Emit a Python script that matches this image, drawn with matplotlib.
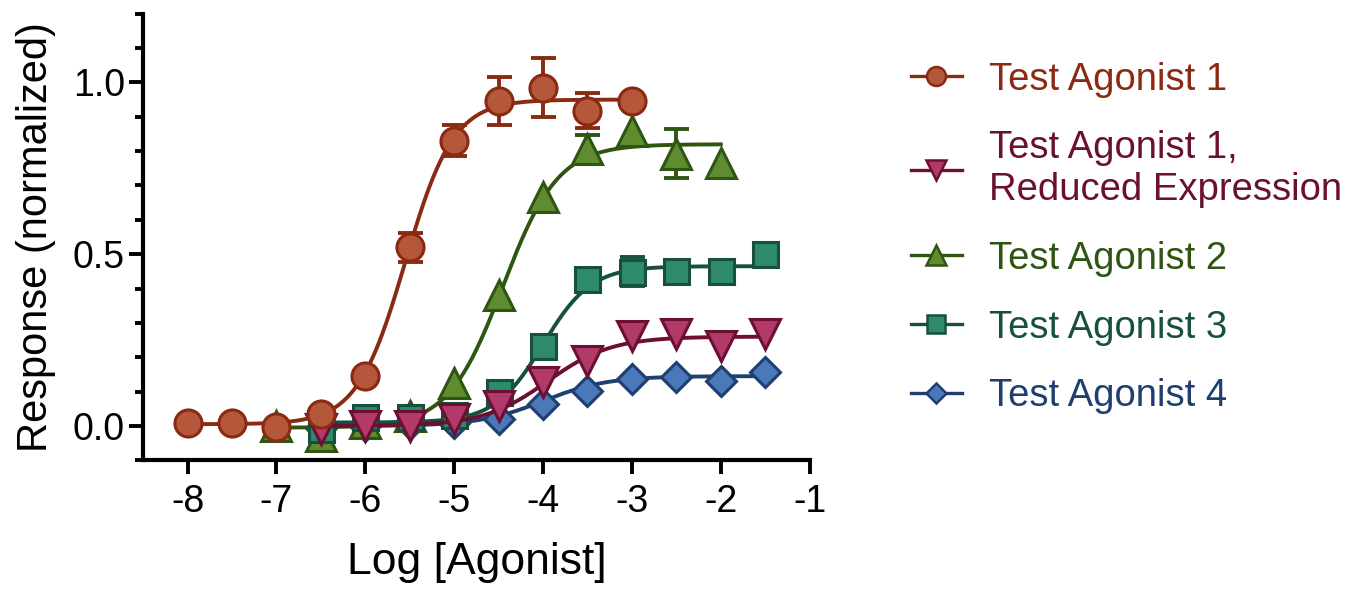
import matplotlib
matplotlib.use("Agg")
import matplotlib.pyplot as plt
import numpy as np

plt.rcParams["font.family"] = ["Liberation Sans", "DejaVu Sans"]

# log concentrations for each series
x_a1 = [-8.0, -7.5, -7.0, -6.5, -6.0, -5.5, -5.0, -4.5, -4.0, -3.5, -3.0]
x_a2 = [-7.0, -6.5, -6.0, -5.5, -5.0, -4.5, -4.0, -3.5, -3.0, -2.5, -2.0]
x_late = [-6.5, -6.0, -5.5, -5.0, -4.5, -4.0, -3.5, -3.0, -2.5, -2.0, -1.5]

# mean responses (normalized)
y_a1 = [0.01, 0.01, -0.003, 0.035, 0.146, 0.52, 0.83, 0.945, 0.985, 0.918, 0.945]
y_red = [-0.01, 0.0, 0.0, 0.02, 0.058, 0.128, 0.19, 0.262, 0.268, 0.233, 0.268]
y_a2 = [0.0, -0.03, 0.01, 0.03, 0.125, 0.38, 0.667, 0.807, 0.86, 0.793, 0.764]
y_a3 = [-0.01, 0.025, 0.025, 0.032, 0.099, 0.233, 0.428, 0.449, 0.452, 0.452, 0.50]
y_a4 = [-0.005, 0.0, 0.005, 0.01, 0.02, 0.064, 0.102, 0.137, 0.143, 0.131, 0.157]

# SEM (0 where hidden by the marker)
e_a1 = [0, 0, 0, 0, 0, 0.043, 0.045, 0.07, 0.085, 0.05, 0]
e_red = [0, 0, 0, 0, 0, 0, 0, 0, 0, 0, 0]
e_a2 = [0, 0, 0, 0, 0, 0, 0, 0.04, 0, 0.07, 0]
e_a3 = [0, 0, 0, 0, 0, 0, 0, 0.043, 0, 0, 0]
e_a4 = [0, 0, 0, 0, 0, 0, 0, 0, 0, 0, 0]

# fitted sigmoid parameters: bottom, top, logEC50, hill slope
fit_a1 = [0.005, 0.95, -5.55, 1.6]
fit_red = [0.0, 0.26, -3.95, 1.2]
fit_a2 = [-0.005, 0.82, -4.45, 1.4]
fit_a3 = [0.01, 0.465, -4.0, 1.6]
fit_a4 = [0.0, 0.145, -4.0, 1.2]

labels = ["Test Agonist 1", "Test Agonist 1,\nReduced Expression",
          "Test Agonist 2", "Test Agonist 3", "Test Agonist 4"]

x_ticks = [-8, -7, -6, -5, -4, -3, -2, -1]
x_tick_labels = ["-8", "-7", "-6", "-5", "-4", "-3", "-2", "-1"]
y_ticks = [0.0, 0.5, 1.0]
y_tick_labels = ["0.0", "0.5", "1.0"]


def hill(x, p):
    bottom, top, ec50, slope = p
    return bottom + (top - bottom) / (1.0 + 10 ** ((ec50 - x) * slope))


series = [
    # x, y, err, fit, marker, fill, edge, zorder, marker size
    (x_late, y_a4, e_a4, fit_a4, "D", "#4a78b8", "#1f3f70", 3, 15),
    (x_a2, y_a2, e_a2, fit_a2, "^", "#5e8c2f", "#2f5512", 4, 21),
    (x_late, y_a3, e_a3, fit_a3, "s", "#2e8a6c", "#17503f", 5, 18),
    (x_late, y_red, e_red, fit_red, "v", "#b23a6a", "#6b0f33", 6, 21),
    (x_a1, y_a1, e_a1, fit_a1, "o", "#b5573a", "#8a2a12", 7, 19.5),
]
label_order = [4, 2, 3, 1, 0]

fig = plt.figure(figsize=(13.63, 5.97), dpi=100)
ax = fig.add_axes([0.105, 0.229, 0.489, 0.748])

handles = {}
for i, (xs, ys, es, fit, mk, fc, ec, z, ms) in enumerate(series):
    xs = np.asarray(xs)
    ys = np.asarray(ys)
    es = np.asarray(es, dtype=float)
    xx = np.linspace(xs[0], xs[-1], 300)
    ax.plot(xx, hill(xx, fit), color=ec, lw=2.8, zorder=z)
    m = es > 0
    if m.any():
        ax.errorbar(xs[m], ys[m], yerr=es[m], fmt="none", ecolor=ec,
                    elinewidth=2.8, capsize=9, capthick=2.8, zorder=z)
    ax.plot(xs, ys, ls="none", marker=mk, ms=ms, mfc=fc, mec=ec, mew=2.2,
            zorder=z + 0.5)
    handles[label_order[i]] = ax.plot([], [], color=ec, lw=2.4, marker=mk,
                                      ms=ms * 0.7, mfc=fc, mec=ec, mew=1.8)[0]

ax.set_xlim(-8.5, -1)
ax.set_ylim(-0.1, 1.2)
ax.set_xticks(x_ticks)
ax.set_xticklabels(x_tick_labels)
ax.set_yticks(y_ticks)
ax.set_yticklabels(y_tick_labels)
ax.set_yticks(np.arange(-0.1, 1.21, 0.1), minor=True)
ax.tick_params(axis="both", which="major", length=10, width=2.8)
ax.tick_params(axis="x", labelsize=27, pad=7)
ax.tick_params(axis="y", labelsize=27, pad=3)
ax.tick_params(axis="y", which="minor", length=6, width=2.8)
for side in ["top", "right"]:
    ax.spines[side].set_visible(False)
for side in ["left", "bottom"]:
    ax.spines[side].set_linewidth(3.0)

ax.set_xlabel("Log [Agonist]", fontsize=32, labelpad=16)
ax.set_ylabel("Response (normalized)", fontsize=30, labelpad=12)

leg = ax.legend([handles[k] for k in range(5)], labels,
                loc="upper left", bbox_to_anchor=(1.10, 0.97), frameon=False,
                fontsize=27.5, handlelength=1.35, handletextpad=0.7,
                labelspacing=0.86, labelcolor="linecolor")

fig.savefig("out.png", dpi=100)
